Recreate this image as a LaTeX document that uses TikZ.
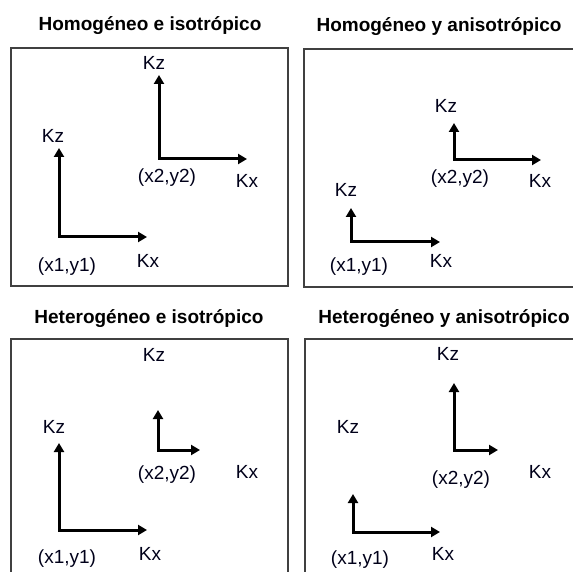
\documentclass[tikz,border=0pt]{standalone}
\usepackage{fontspec}
\setmainfont{Liberation Sans}
\usetikzlibrary{arrows.meta}
\begin{document}
\begin{tikzpicture}[x=1pt,y=-1pt,
  panel/.style={draw=black!75,line width=1.8pt},
  ttl/.style={font=\fontsize{19}{22}\selectfont\bfseries,anchor=base,inner sep=0pt},
  lbl/.style={font=\fontsize{19}{22}\selectfont,anchor=base,inner sep=0pt,text=black!90!blue},
  axis/.style={line width=3pt,line join=miter,{Triangle[length=9pt,width=10pt]}-{Triangle[length=9pt,width=10pt]}}]
\useasboundingbox (0,0) rectangle (573,572);
\clip (0,0) rectangle (573,572);
% panels
\draw[panel] (11,48) rectangle (288,286);
\draw[panel] (700,49) -- (304,49) -- (304,287) -- (700,287);
\draw[panel] (11,700) -- (11,339) -- (288,339) -- (288,700);
\draw[panel] (305,700) -- (305,339) -- (700,339);
% titles
\node[ttl] (t1) at (150,31) {Homogéneo e isotrópico};
\node[ttl] (t2) at (439,32) {Homogéneo y anisotrópico};
\node[ttl] (t3) at (149,323) {Heterogéneo e isotrópico};
\node[ttl] (t4) at (444,323) {Heterogéneo y anisotrópico};
% panel 1
\coordinate (p1ao) at (59,237); \coordinate (p1az) at (59,148); \coordinate (p1ax) at (147,237);
\coordinate (p1bo) at (159,159); \coordinate (p1bz) at (159,75); \coordinate (p1bx) at (247,159);
\draw[axis] (p1az) -- (p1ao) -- (p1ax);
\draw[axis] (p1bz) -- (p1bo) -- (p1bx);
\node[lbl] (p1kz1) at (53,143) {Kz};
\node[lbl] (p1kx1) at (148,267) {Kx};
\node[lbl] (p1pt1) at (67,272) {(x1,y1)};
\node[lbl] (p1kz2) at (154,70) {Kz};
\node[lbl] (p1kx2) at (247,188) {Kx};
\node[lbl] (p1pt2) at (167,183) {(x2,y2)};
% panel 2
\coordinate (p2ao) at (351,242); \coordinate (p2az) at (351,208); \coordinate (p2ax) at (440,242);
\coordinate (p2bo) at (454,160); \coordinate (p2bz) at (454,123); \coordinate (p2bx) at (541,160);
\draw[axis] (p2az) -- (p2ao) -- (p2ax);
\draw[axis] (p2bz) -- (p2bo) -- (p2bx);
\node[lbl] (p2kz1) at (346,197) {Kz};
\node[lbl] (p2kx1) at (441,267) {Kx};
\node[lbl] (p2pt1) at (359,272) {(x1,y1)};
\node[lbl] (p2kz2) at (446,113) {Kz};
\node[lbl] (p2kx2) at (540,188) {Kx};
\node[lbl] (p2pt2) at (460,184) {(x2,y2)};
% panel 3
\coordinate (p3ao) at (59,530); \coordinate (p3az) at (59,443); \coordinate (p3ax) at (147,530);
\coordinate (p3bo) at (158,450); \coordinate (p3bz) at (158,410); \coordinate (p3bx) at (200,450);
\draw[axis] (p3az) -- (p3ao) -- (p3ax);
\draw[axis] (p3bz) -- (p3bo) -- (p3bx);
\node[lbl] (p3kz1) at (54,433) {Kz};
\node[lbl] (p3kx1) at (150,560) {Kx};
\node[lbl] (p3pt1) at (67,563) {(x1,y1)};
\node[lbl] (p3kz2) at (154,361) {Kz};
\node[lbl] (p3kx2) at (247,478) {Kx};
\node[lbl] (p3pt2) at (167,479) {(x2,y2)};
% panel 4
\coordinate (p4ao) at (353,532); \coordinate (p4az) at (353,494); \coordinate (p4ax) at (440,532);
\coordinate (p4bo) at (454,450); \coordinate (p4bz) at (454,383); \coordinate (p4bx) at (498,450);
\draw[axis] (p4az) -- (p4ao) -- (p4ax);
\draw[axis] (p4bz) -- (p4bo) -- (p4bx);
\node[lbl] (p4kz1) at (348,433) {Kz};
\node[lbl] (p4kx1) at (443,560) {Kx};
\node[lbl] (p4pt1) at (360,564) {(x1,y1)};
\node[lbl] (p4kz2) at (448,360) {Kz};
\node[lbl] (p4kx2) at (540,478) {Kx};
\node[lbl] (p4pt2) at (461,484) {(x2,y2)};
\end{tikzpicture}
\end{document}
